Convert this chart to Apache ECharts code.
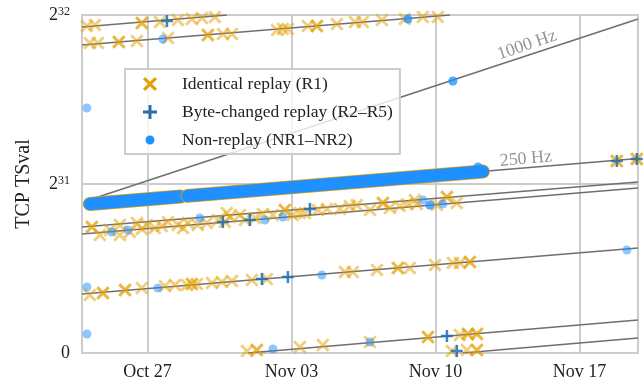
<!DOCTYPE html>
<html><head><meta charset="utf-8">
<script src="https://cdn.jsdelivr.net/npm/echarts@6/dist/echarts.min.js"></script>
<style>html,body{margin:0;padding:0;background:#fff}#c{width:644px;height:383px}</style>
</head><body><div id="c"></div>
<script>
// x: day number counted from Oct 1 (Oct 27 = 27, Nov 03 = 34, ...); y: TSval / 2^32
const xRange = [23.82, 50.85];
const xTickValues = [27, 34, 41, 48];
const xTickLabels = ['Oct 27', 'Nov 03', 'Nov 10', 'Nov 17'];
const yTickValues = [0, 0.5, 1];
const yTickExponents = [null, 31, 32];
const seriesNames = ['Identical replay (R1)', 'Byte-changed replay (R2\u2013R5)', 'Non-replay (NR1\u2013NR2)'];

// clock lines: [xStart, yStart, xEnd, yEnd]
const clockLines = [
  [24.01, 0.4497, 50.85, 0.9882],
  [23.91, 0.4393, 50.85, 0.5754],
  [23.82, 0.3728, 50.85, 0.5059],
  [23.82, 0.3521, 50.85, 0.4882],
  [23.82, 0.1746, 50.85, 0.3107],
  [23.82, 0.9645, 30.87, 1.0],
  [31.89, 0.0, 50.85, 0.0976],
  [23.82, 0.9112, 41.71, 1.0],
  [42.34, 0.0, 50.85, 0.0444]
];
// dense band of overlapping points (drawn as thick strokes): [xStart, yStart, xEnd, yEnd]
const denseBand = [
  [24.20, 0.4408, 28.62, 0.4631],
  [28.95, 0.4648, 43.31, 0.5370]
];
// [x, y, count]
const identical = [
  [24.06,0.9675,1],[24.45,0.9704,1],[26.73,0.9763,2],[27.61,0.9793,1],[28.48,0.9852,1],[29.16,0.9882,1],[29.65,0.9911,1],[30.28,0.9941,1],
  [24.20,0.9172,1],[24.59,0.9172,1],[25.61,0.9201,2],[26.49,0.9231,1],[28.00,0.9320,1],[29.94,0.9408,2],[30.67,0.9438,1],[31.11,0.9438,1],
  [33.30,0.9556,1],[33.59,0.9586,1],[33.83,0.9586,1],[34.80,0.9675,1],[35.24,0.9675,2],[36.21,0.9734,1],[37.09,0.9793,1],[37.47,0.9793,1],
  [38.40,0.9852,1],[39.52,0.9882,1],[40.39,0.9941,1],[41.12,0.9941,1],
  [24.30,0.3728,2],[24.69,0.3491,1],[25.66,0.3787,1],[25.66,0.3491,1],[26.49,0.3846,1],[26.73,0.3669,1],[26.98,0.3787,1],[27.36,0.3698,1],
  [28.00,0.3876,1],[28.48,0.3787,1],[28.97,0.3846,1],[29.45,0.3787,1],[29.89,0.3846,1],[30.43,0.3935,1],[31.01,0.4024,1],[31.50,0.4083,1],
  [31.74,0.3935,1],[33.10,0.4083,1],[33.68,0.4231,2],[34.07,0.4083,1],[34.41,0.4142,1],[34.66,0.4142,1],[35.29,0.4231,1],[35.73,0.4260,1],
  [36.36,0.4260,1],[36.84,0.4349,1],[37.18,0.4379,1],[37.82,0.4231,1],[38.45,0.4438,2],[39.27,0.4349,1],[39.61,0.4408,1],[40.00,0.4527,1],
  [40.10,0.4408,1],[41.07,0.4379,1],[41.56,0.4615,2],[42.04,0.4438,1],[25.18,0.3639,1],[26.15,0.3580,1],[27.70,0.3757,1],[28.73,0.3698,1],
  [30.77,0.3876,1],[32.23,0.3994,1],[32.61,0.4112,1],[30.86,0.4142,1],[38.79,0.4290,1],
  [24.20,0.1716,1],[24.84,0.1775,2],[25.91,0.1864,2],[26.73,0.1923,1],[27.85,0.1982,1],[28.34,0.2012,1],[28.92,0.2012,1],[29.16,0.2041,2],
  [29.41,0.2041,1],[30.14,0.2071,1],[30.62,0.2101,1],[32.08,0.2160,1],[32.81,0.2189,1],[36.60,0.2396,1],[36.99,0.2396,1],[38.16,0.2456,1],
  [39.18,0.2515,2],[39.76,0.2515,1],[40.98,0.2604,1],[41.85,0.2663,1],[42.19,0.2663,1],[42.68,0.2692,2],[31.11,0.2130,1],
  [31.84,0.0059,1],[32.32,0.0089,2],[34.41,0.0178,1],[35.53,0.0237,1],[37.82,0.0325,1],[40.64,0.0473,2],[42.19,0.0533,1],[42.58,0.0562,2],
  [43.02,0.0562,2],[41.80,0.0059,1],[42.53,0.0089,1],[43.02,0.0089,2],
  [49.82,0.5680,2],[50.79,0.5740,2]
];
const byteChanged = [
  [27.95,0.9822],[30.67,0.3876],[31.98,0.3935],[34.90,0.4260],[32.57,0.2189],[33.83,0.2249],
  [41.56,0.0503],[42.04,0.0059],[49.82,0.5680],[50.79,0.5740]
];
const nonReplay = [
  [24.06,0.7249,1],[24.06,0.1953,1],[24.06,0.0562,1],[27.75,0.9290,1],[39.66,0.9882,2],[41.85,0.8047,2],
  [25.27,0.3580,1],[26.05,0.3639,1],[29.55,0.3994,1],[32.71,0.3935,1],[33.59,0.4024,1],[40.39,0.4527,1],
  [40.73,0.4379,2],[41.36,0.4408,1],[27.51,0.1923,1],[35.48,0.2308,1],[50.31,0.3047,1],[33.10,0.0118,1],
  [37.82,0.0325,1],[43.07,0.5503,2]
];
// annotation labels: [text, x, y, rotation]
const rateLabels = [
  ['1000 Hz', 45.45, 0.911, 19],
  ['250 Hz', 45.40, 0.574, 5]
];

const FONT = 'Liberation Serif';
const ORANGE = '#E69F00', DARKBLUE = '#1f6fb0', BLUE = '#1E90FF', GRID = '#cccccc';
const X_PATH = 'path://M0,3.1L3.1,0L10,6.9L16.9,0L20,3.1L13.1,10L20,16.9L16.9,20L10,13.1L3.1,20L0,16.9L6.9,10Z';
const PLUS_PATH = 'path://M7.9,0H12.1V7.9H20V12.1H12.1V20H7.9V12.1H0V7.9H7.9Z';
const DOT_LEGEND = 'path://M0,0M14,14M7,2.5A4.5,4.5,0,1,1,6.99,2.5Z';

function expand(list) {
  const out = [];
  list.forEach(p => { const n = p[2] || 1; for (let i = 0; i < n; i++) out.push([p[0], p[1]]); });
  return out;
}

const series = [];
clockLines.forEach(l => series.push({
  type: 'line', data: [[l[0], l[1]], [l[2], l[3]]], symbol: 'none', silent: true, z: 1,
  lineStyle: { color: '#6f6f6f', width: 1.6 }
}));
denseBand.forEach(b => {
  series.push({ type: 'line', data: [[b[0], b[1]], [b[2], b[3]]], symbol: 'none', silent: true, z: 2,
    lineStyle: { color: ORANGE, width: 14, cap: 'round' } });
  series.push({ type: 'line', data: [[b[0], b[1]], [b[2], b[3]]], symbol: 'none', silent: true, z: 2,
    lineStyle: { color: BLUE, width: 12.4, cap: 'round' } });
});
series.push({ name: seriesNames[0], type: 'scatter', data: expand(identical), symbol: X_PATH, symbolSize: 13.5, z: 3,
  itemStyle: { color: ORANGE, opacity: 0.5 } });
series.push({ name: seriesNames[1], type: 'scatter', data: byteChanged, symbol: PLUS_PATH, symbolSize: 12, z: 3,
  itemStyle: { color: DARKBLUE, opacity: 0.85 } });
series.push({ name: seriesNames[2], type: 'scatter', data: expand(nonReplay), symbol: 'circle', symbolSize: 9, z: 3,
  itemStyle: { color: BLUE, opacity: 0.5 } });
rateLabels.forEach(r => series.push({
  type: 'scatter', data: [[r[1], r[2]]], symbolSize: 0, silent: true, z: 3,
  label: { show: true, position: 'inside', formatter: r[0], rotate: r[3], color: '#7a7a7a', fontFamily: FONT, fontSize: 18 }
}));

const chart = echarts.init(document.getElementById('c'), null, { renderer: 'canvas' });
chart.setOption({
  animation: false,
  grid: { left: 82, right: 6, top: 15, bottom: 30, show: true, borderColor: GRID, borderWidth: 2 },
  xAxis: {
    type: 'value', min: xRange[0], max: xRange[1],
    axisLine: { show: false },
    axisTick: { show: false, customValues: xTickValues },
    axisLabel: { customValues: xTickValues, margin: 10, color: '#222', fontFamily: FONT, fontSize: 18,
      formatter: v => { const i = xTickValues.findIndex(t => Math.abs(t - v) < 1e-6); return i >= 0 ? xTickLabels[i] : ''; } },
    splitLine: { show: true, lineStyle: { color: GRID, width: 2 } }
  },
  yAxis: {
    type: 'value', min: 0, max: 1, interval: 0.5,
    name: 'TCP TSval', nameLocation: 'middle', nameGap: 48,
    nameTextStyle: { fontFamily: FONT, fontSize: 20, color: '#222' },
    axisLine: { show: false }, axisTick: { show: false },
    splitLine: { show: true, lineStyle: { color: GRID, width: 2 } },
    axisLabel: {
      margin: 12,
      formatter: v => { const i = yTickValues.findIndex(t => Math.abs(t - v) < 1e-9); const e = yTickExponents[i];
        return e ? '{b|2}{s|' + e + '}' : '{b|0}'; },
      rich: {
        b: { fontFamily: FONT, fontSize: 18, color: '#222', lineHeight: 18 },
        s: { fontFamily: FONT, fontSize: 12, color: '#222', verticalAlign: 'top', lineHeight: 12 }
      }
    }
  },
  legend: {
    left: 125, top: 69, orient: 'vertical', selectedMode: false,
    padding: [6, 7, 5, 18], itemGap: 10, itemWidth: 14, itemHeight: 14,
    backgroundColor: 'rgba(255,255,255,0.8)', borderColor: GRID, borderWidth: 2,
    textStyle: { fontFamily: FONT, fontSize: 17.5, color: '#222', lineHeight: 16, padding: [0, 0, 0, 20] },
    data: [
      { name: seriesNames[0], icon: X_PATH, itemStyle: { color: ORANGE, opacity: 1 } },
      { name: seriesNames[1], icon: PLUS_PATH, itemStyle: { color: DARKBLUE, opacity: 1 } },
      { name: seriesNames[2], icon: DOT_LEGEND, itemStyle: { color: BLUE, opacity: 1 } }
    ]
  },
  series: series
});
</script>
</body></html>
